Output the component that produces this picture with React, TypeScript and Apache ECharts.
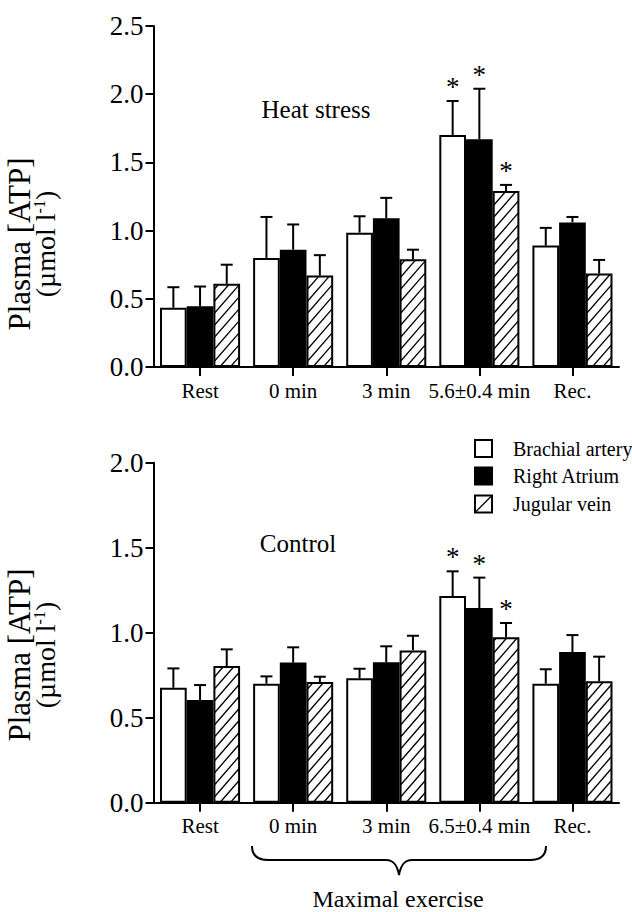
import React, { useEffect, useRef } from "react";
import * as echarts from "echarts";

// ---------- data ----------
const heatCategories = ["Rest", "0 min", "3 min", "5.6±0.4 min", "Rec."];
const controlCategories = ["Rest", "0 min", "3 min", "6.5±0.4 min", "Rec."];
const seriesNames = ["Brachial artery", "Right Atrium", "Jugular vein"];

// Heat stress: means and SEM (upper error)
const heatBrachial = [0.435, 0.8, 0.985, 1.7, 0.89];
const heatBrachialErr = [0.15, 0.3, 0.12, 0.25, 0.13];
const heatAtrium = [0.445, 0.86, 1.09, 1.67, 1.06];
const heatAtriumErr = [0.145, 0.185, 0.15, 0.37, 0.04];
const heatJugular = [0.61, 0.67, 0.79, 1.29, 0.685];
const heatJugularErr = [0.14, 0.15, 0.07, 0.045, 0.1];

// Control
const ctrlBrachial = [0.676, 0.7, 0.732, 1.216, 0.7];
const ctrlBrachialErr = [0.114, 0.043, 0.056, 0.145, 0.085];
const ctrlAtrium = [0.604, 0.824, 0.826, 1.145, 0.886];
const ctrlAtriumErr = [0.088, 0.09, 0.094, 0.179, 0.1];
const ctrlJugular = [0.804, 0.71, 0.896, 0.973, 0.714];
const ctrlJugularErr = [0.098, 0.031, 0.086, 0.084, 0.145];

// significance markers: [categoryIndex, seriesIndex]
const heatStars = [[3, 0], [3, 1], [3, 2]];
const ctrlStars = [[3, 0], [3, 1], [3, 2]];

const heatYTicks = [0, 0.5, 1.0, 1.5, 2.0, 2.5];
const ctrlYTicks = [0, 0.5, 1.0, 1.5, 2.0];

const FONT = '"Liberation Serif", "Times New Roman", serif';
const CAT_GAP = 0.14;

const BRACE_D =
  "M252,846 C252,855 257,860 268,860 L386,860 C393,860 397,864 399,875 C401,864 405,860 412,860 L530,860 C541,860 546,855 546,846";

export default function App() {
  const ref = useRef<HTMLDivElement>(null);

  useEffect(() => {
    if (!ref.current) return;
    echarts.graphic.registerShape("brace", echarts.graphic.extendPath(BRACE_D, {}));
    const chart = echarts.init(ref.current, null, { renderer: "svg" });

    const means = [
      [heatBrachial, heatAtrium, heatJugular],
      [ctrlBrachial, ctrlAtrium, ctrlJugular],
    ];
    const errs = [
      [heatBrachialErr, heatAtriumErr, heatJugularErr],
      [ctrlBrachialErr, ctrlAtriumErr, ctrlJugularErr],
    ];
    const stars = [heatStars, ctrlStars];
    const cats = [heatCategories, controlCategories];
    const yTicks = [heatYTicks, ctrlYTicks];

    const fills = ["#fff", "#000", "#fff"];
    const series: any[] = [];
    for (let g = 0; g < 2; g++) {
      for (let s = 0; s < 3; s++) {
        series.push({
          type: "bar",
          name: seriesNames[s],
          xAxisIndex: g,
          yAxisIndex: g,
          data: means[g][s],
          barGap: "0%",
          barCategoryGap: CAT_GAP * 100 + "%",
          silent: true,
          itemStyle: { color: fills[s], borderColor: "#000", borderWidth: 2 },
          emphasis: { disabled: true },
        });
      }
      const rows: number[][] = [];
      for (let s = 0; s < 3; s++) {
        for (let c = 0; c < 5; c++) {
          const st = stars[g].some((p) => p[0] === c && p[1] === s) ? 1 : 0;
          rows.push([c, means[g][s][c], errs[g][s][c], s, st]);
        }
      }
      series.push({
        type: "custom",
        xAxisIndex: g,
        yAxisIndex: g,
        silent: true,
        z: 5,
        itemStyle: { color: "#000" },
        data: rows,
        renderItem: (params: any, api: any) => {
          const c = api.value(0);
          const v = api.value(1);
          const e = api.value(2);
          const s = api.value(3);
          const st = api.value(4);
          const band = api.size([1, 0])[0];
          const bw = (band * (1 - CAT_GAP)) / 3;
          const base = api.coord([c, v]);
          const zeroY = api.coord([c, 0])[1];
          const cx = base[0] + (s - 1) * bw;
          const top = api.coord([c, v + e])[1];
          const children: any[] = [];
          if (s === 2) {
            // diagonal hatching "/" inside the bar
            const x0 = cx - bw / 2 + 1.2;
            const x1 = cx + bw / 2 - 1.2;
            const yT = base[1] + 1.2;
            const yB = zeroY - 1.2;
            const k = 1.15;
            const dv = 12;
            const C0 = yB + k * x0 + dv * 0.6;
            const mStart = Math.ceil((yT + k * x0 - C0) / dv);
            const mEnd = Math.floor((yB + k * x1 - C0) / dv);
            for (let m = mStart; m <= mEnd; m++) {
              const C = C0 + m * dv;
              const xa = Math.max(x0, (C - yB) / k);
              const xb = Math.min(x1, (C - yT) / k);
              if (xb - xa > 0.3) {
                children.push({
                  type: "line",
                  shape: { x1: xa, y1: C - k * xa, x2: xb, y2: C - k * xb },
                  style: { stroke: "#000", lineWidth: 1.3 },
                });
              }
            }
          }
          children.push({
            type: "line",
            shape: { x1: cx, y1: base[1], x2: cx, y2: top },
            style: { stroke: "#000", lineWidth: 2 },
          });
          children.push({
            type: "line",
            shape: { x1: cx - 6, y1: top, x2: cx + 6, y2: top },
            style: { stroke: "#000", lineWidth: 2 },
          });
          if (st) {
            children.push({
              type: "text",
              x: cx,
              y: top - 14,
              style: {
                text: "*",
                fontSize: 27,
                fontFamily: FONT,
                fill: "#000000",
                textAlign: "center",
                textVerticalAlign: "middle",
              },
            });
          }
          return { type: "group", children };
        },
      });
    }

    const gridTops = [26, 462.7];
    const gridHeights = [341, 340];

    const graphic: any[] = [];
    // panel titles
    graphic.push({
      type: "text",
      x: 316,
      y: 109,
      style: { text: "Heat stress", fontSize: 25, fontFamily: FONT, fill: "#000", textAlign: "center", textVerticalAlign: "middle" },
    });
    graphic.push({
      type: "text",
      x: 298,
      y: 543,
      style: { text: "Control", fontSize: 25, fontFamily: FONT, fill: "#000", textAlign: "center", textVerticalAlign: "middle" },
    });
    // y-axis titles
    const titleY = [244, 655];
    for (let g = 0; g < 2; g++) {
      graphic.push({
        type: "text",
        x: 19,
        y: titleY[g],
        rotation: Math.PI / 2,
        style: { text: "Plasma [ATP]", fontSize: 31, fontFamily: FONT, fill: "#000", textAlign: "center", textVerticalAlign: "middle" },
      });
      graphic.push({
        type: "text",
        x: 45,
        y: titleY[g],
        rotation: Math.PI / 2,
        style: {
          text: "(µmol l{sup|-1})",
          fontSize: 28,
          fontFamily: FONT,
          fill: "#000",
          textAlign: "center",
          textVerticalAlign: "middle",
          rich: { sup: { fontSize: 16, fontFamily: FONT, fill: "#000", verticalAlign: "top" } },
        },
      });
    }
    // legend
    const legY = [448.5, 476, 504];
    for (let s = 0; s < 3; s++) {
      graphic.push({
        type: "rect",
        shape: { x: 475, y: legY[s] - 8.5, width: 17, height: 17 },
        style: { fill: fills[s], stroke: "#000", lineWidth: 2 },
      });
      if (s === 2) {
        graphic.push({
          type: "line",
          shape: { x1: 476, y1: legY[s] + 7.5, x2: 491, y2: legY[s] - 7.5 },
          style: { stroke: "#000", lineWidth: 1.3 },
        });
      }
      graphic.push({
        type: "text",
        x: 513,
        y: legY[s],
        style: { text: seriesNames[s], fontSize: 20, fontFamily: FONT, fill: "#000", textAlign: "left", textVerticalAlign: "middle" },
      });
    }
    // brace + label
    graphic.push({
      type: "brace",
      x: 0,
      y: 0,
      style: { fill: "none", stroke: "#000", lineWidth: 2 },
    });
    graphic.push({
      type: "text",
      x: 398,
      y: 899,
      style: { text: "Maximal exercise", fontSize: 24, fontFamily: FONT, fill: "#000", textAlign: "center", textVerticalAlign: "middle" },
    });

    chart.setOption({
      animation: false,
      backgroundColor: "#fff",
      grid: [0, 1].map((g) => ({
        left: 153.5,
        top: gridTops[g],
        width: 465.5,
        height: gridHeights[g],
        containLabel: false,
      })),
      xAxis: [0, 1].map((g) => ({
        type: "category",
        gridIndex: g,
        data: cats[g],
        axisLine: { show: true, lineStyle: { color: "#000", width: 2 } },
        axisTick: { show: true, alignWithLabel: true, length: 9, lineStyle: { color: "#000", width: 2 } },
        axisLabel: { interval: 0, color: "#000", fontSize: 21, fontFamily: FONT, margin: 13 },
        splitLine: { show: false },
      })),
      yAxis: [0, 1].map((g) => ({
        type: "value",
        gridIndex: g,
        min: yTicks[g][0],
        max: yTicks[g][yTicks[g].length - 1],
        interval: 0.5,
        axisLine: { show: true, lineStyle: { color: "#000", width: 2 } },
        axisTick: { show: true, length: 8, lineStyle: { color: "#000", width: 2 } },
        axisLabel: {
          color: "#000",
          fontSize: 27,
          fontFamily: FONT,
          margin: 10,
          formatter: (v: number) => v.toFixed(1),
        },
        splitLine: { show: false },
      })),
      series,
      graphic,
    });

    return () => {
      chart.dispose();
    };
  }, []);

  return (
    <div
      ref={ref}
      style={{ position: "fixed", left: 0, top: 0, width: 632, height: 912, background: "#fff" }}
    />
  );
}
